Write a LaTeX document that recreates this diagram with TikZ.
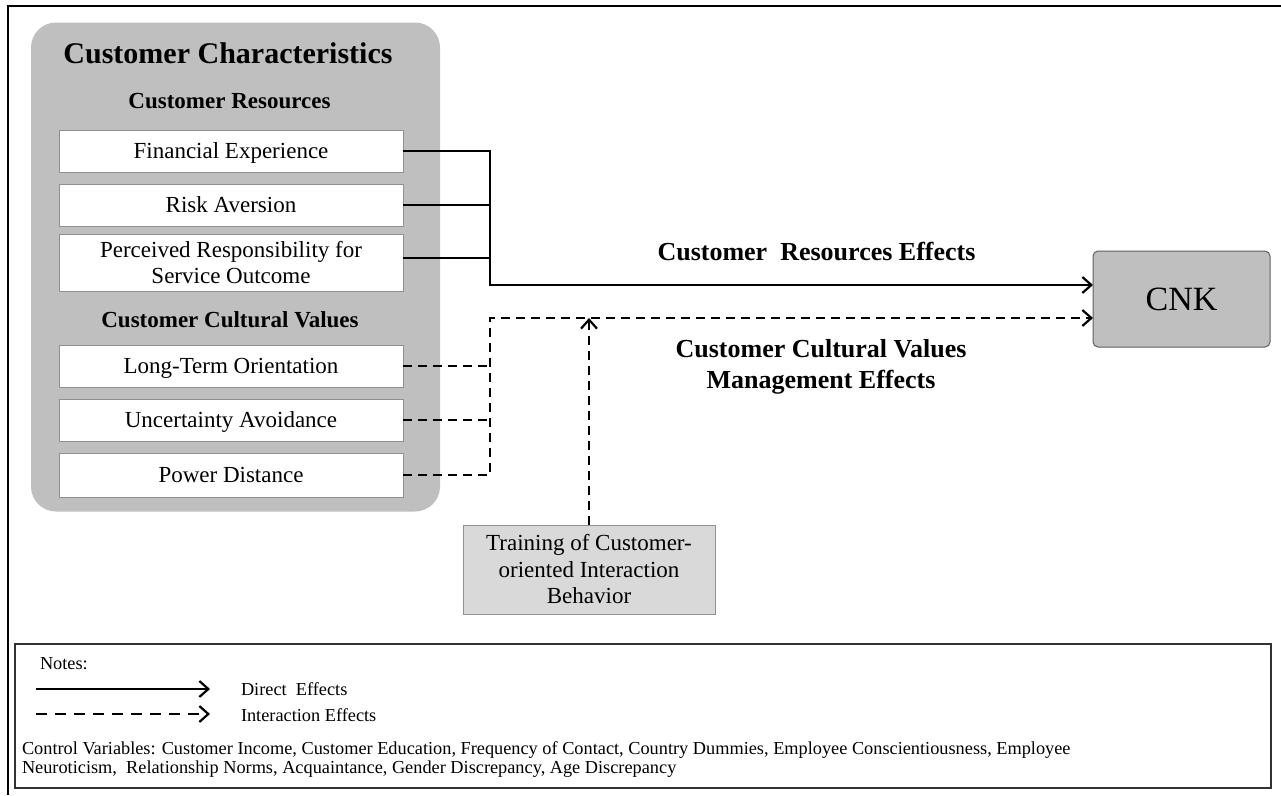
\documentclass[tikz,border=0pt]{standalone}
\usepackage{fontspec}
\setmainfont{Liberation Serif}
\usetikzlibrary{arrows.meta,calc}
\definecolor{panel}{RGB}{191,191,191}
\definecolor{boxline}{RGB}{145,145,145}
\definecolor{trainfill}{RGB}{217,217,217}
\definecolor{cnkline}{RGB}{95,95,95}
\definecolor{noteline}{RGB}{50,50,50}
\begin{document}
\begin{tikzpicture}[x=1pt,y=1pt,
  every node/.style={inner sep=0pt,outer sep=0pt},
  panelbox/.style={fill=panel,rounded corners=25pt,minimum width=409pt,minimum height=489pt},
  varbox/.style={draw=boxline,fill=white,line width=1pt,minimum width=344pt,align=center,
    font=\fontsize{23}{26}\selectfont},
  onebox/.style={varbox,minimum height=42pt,text height=15pt,text depth=0pt},
  heading/.style={anchor=base,font=\fontsize{23}{26}\selectfont\bfseries},
  effectlabel/.style={align=center,font=\fontsize{26}{31}\selectfont\bfseries},
  cnkbox/.style={draw=cnkline,fill=panel,line width=1pt,rounded corners=5pt,minimum width=177pt,minimum height=96pt,font=\fontsize{34}{38}\selectfont},
  trainbox/.style={draw=boxline,fill=trainfill,line width=1pt,minimum width=252pt,minimum height=89pt,align=center,font=\fontsize{23}{26.5}\selectfont},
  notesbox/.style={draw=noteline,line width=1.2pt,minimum width=1256pt,minimum height=144pt},
  notetext/.style={anchor=base west,align=left,font=\fontsize{18.3}{19}\selectfont},
  link/.style={line width=2.2pt},
  dlink/.style={line width=2.2pt,dash pattern=on 9pt off 6pt},
  legdash/.style={line width=2.2pt,dash pattern=on 11pt off 8pt},
  tip/.style={-{Straight Barb[length=9pt,width=16pt]}}
]
\useasboundingbox (0,0) rectangle (1281,-795);
% outer frame (top and left edges)
\draw[line width=2pt] (8,-795) -- (8,-6) -- (1281,-6);

% customer characteristics panel
\node[panelbox] (panel) at (235.5,-267) {};
\node[anchor=base,font=\fontsize{30}{34}\selectfont\bfseries] (title) at (228,-63) {Customer Characteristics};
\node[heading] (hres) at (229.5,-108) {Customer Resources};
\node[onebox] (FE) at (231,-151) {Financial Experience};
\node[onebox] (RA) at (231,-205) {Risk Aversion};
\node[varbox,minimum height=57pt] (PR) at (231,-262.5) {Perceived Responsibility for\\Service Outcome};
\node[heading] (hcul) at (230,-327) {Customer Cultural Values};
\node[onebox] (LT) at (231,-366) {Long-Term Orientation};
\node[onebox] (UA) at (231,-420) {Uncertainty Avoidance};
\node[onebox,minimum height=44pt] (PD) at (231,-475) {Power Distance};

% outcome
\node[cnkbox] (CNK) at (1181.5,-299) {CNK};
% moderator
\node[trainbox] (TR) at (589,-569.5) {Training of Customer-\\oriented Interaction\\Behavior};

% junctions
\coordinate (jr) at (490,-285);
\coordinate (jd) at (490,-318);
\coordinate (jt) at (589,-318);
\coordinate (pr) at ($(PR.east)+(0,4.5)$);

% direct effects
\draw[link,tip] (FE.east) -| (jr) -- (jr -| CNK.west);
\draw[link] (RA.east) -- (RA.east -| jr);
\draw[link] (pr) -- (pr -| jr);
% interaction effects
\draw[dlink,tip] (PD.east) -| (jd) -- (jd -| CNK.west);
\draw[dlink] (LT.east) -- (LT.east -| jd);
\draw[dlink] (UA.east) -- (UA.east -| jd);
\draw[dlink,tip] (TR.north) -- (jt);

% effect labels
\node[anchor=base,font=\fontsize{26}{31}\selectfont\bfseries] (lres) at (816.5,-260) {Customer\ \ Resources Effects};
\node[effectlabel] (lcul) at (821,-366.5) {Customer Cultural Values\\Management Effects};

% notes
\node[notesbox] (notes) at (643,-716) {};
\node[notetext] (ntitle) at (40,-669) {Notes:};
\coordinate (s1) at (36,-689);
\coordinate (e1) at (210,-689);
\coordinate (s2) at (36,-714);
\coordinate (e2) at (210,-714);
\draw[link,tip] (s1) -- (e1);
\draw[legdash,tip] (s2) -- (e2);
\node[notetext] (ldir) at (241,-695) {Direct\ \ Effects};
\node[notetext] (lint) at (241,-721) {Interaction Effects};
\node[notetext] (ctrl) at (22,-773) {Control Variables: Customer Income, Customer Education, Frequency of Contact, Country Dummies, Employee Conscientiousness, Employee\\Neuroticism,\ \ Relationship Norms, Acquaintance, Gender Discrepancy, Age Discrepancy};
\end{tikzpicture}
\end{document}
